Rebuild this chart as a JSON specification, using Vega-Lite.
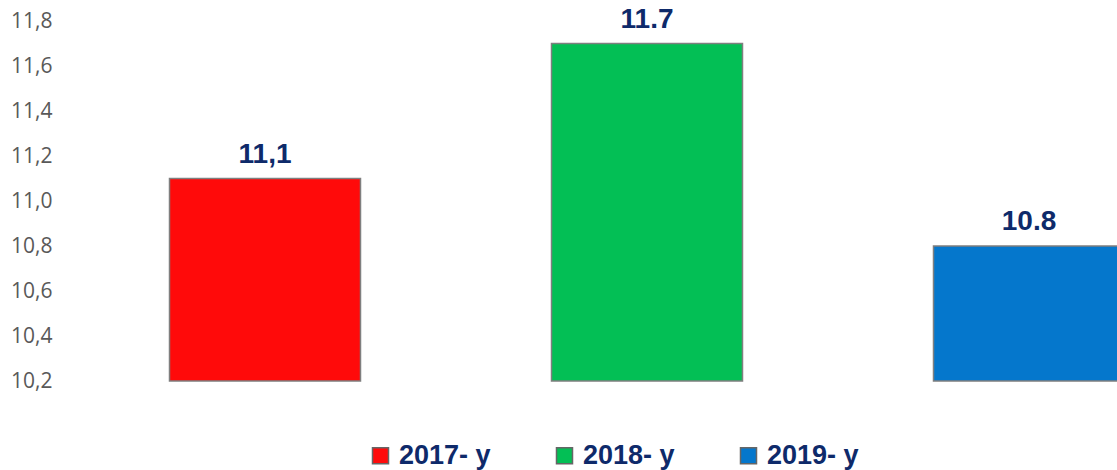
{
  "$schema": "https://vega.github.io/schema/vega-lite/v6.json",
  "autosize": {"type": "none"},
  "padding": {"left": 74, "top": 21, "right": 0, "bottom": 89},
  "width": 1043,
  "height": 360,
  "background": "white",
  "config": {
    "view": {"stroke": null},
    "locale": {"number": {"decimal": ",", "thousands": " ", "grouping": [3], "currency": ["", ""]}}
  },
  "data": {
    "values": [
      {"year": "2017- y", "value": 11.1, "label": "11,1"},
      {"year": "2018- y", "value": 11.7, "label": "11.7"},
      {"year": "2019- y", "value": 10.8, "label": "10.8"}
    ]
  },
  "encoding": {
    "x": {
      "field": "year",
      "type": "nominal",
      "scale": {"range": [0, 1146], "paddingInner": 0.5, "paddingOuter": 0.25},
      "axis": null
    },
    "y": {
      "field": "value",
      "type": "quantitative",
      "scale": {"domain": [10.2, 11.8], "zero": false, "nice": false},
      "axis": {
        "values": [10.2, 10.4, 10.6, 10.8, 11.0, 11.2, 11.4, 11.6, 11.8],
        "format": ".1f",
        "title": null,
        "domain": false,
        "ticks": false,
        "grid": false,
        "labelFont": "Open Sans",
        "labelFontSize": 21,
        "labelColor": "#595959",
        "labelPadding": 22
      }
    }
  },
  "layer": [
    {
      "mark": {"type": "bar", "stroke": "#7f7f7f", "strokeWidth": 1.5},
      "encoding": {
        "y2": {"datum": 10.2},
        "color": {
          "field": "year",
          "type": "nominal",
          "scale": {"domain": ["2017- y", "2018- y", "2019- y"], "range": ["#FF0A0A", "#03BF55", "#0577CC"]},
          "legend": {
            "orient": "none",
            "legendX": 293,
            "legendY": 421,
            "direction": "horizontal",
            "title": null,
            "symbolType": "square",
            "symbolSize": 256,
            "symbolStrokeColor": "#666666",
            "symbolStrokeWidth": 1.5,
            "symbolOpacity": 1,
            "labelFont": "Liberation Sans",
            "labelFontWeight": "bold",
            "labelFontSize": 27,
            "labelColor": "#0E2A6A",
            "labelOffset": 5,
            "columnPadding": 60,
            "labelLimit": 300
          }
        }
      }
    },
    {
      "mark": {
        "type": "text",
        "font": "Liberation Sans",
        "fontWeight": "bold",
        "fontSize": 28,
        "color": "#0E2A6A",
        "baseline": "alphabetic",
        "dy": -16
      },
      "encoding": {
        "text": {"field": "label"}
      }
    }
  ]
}
